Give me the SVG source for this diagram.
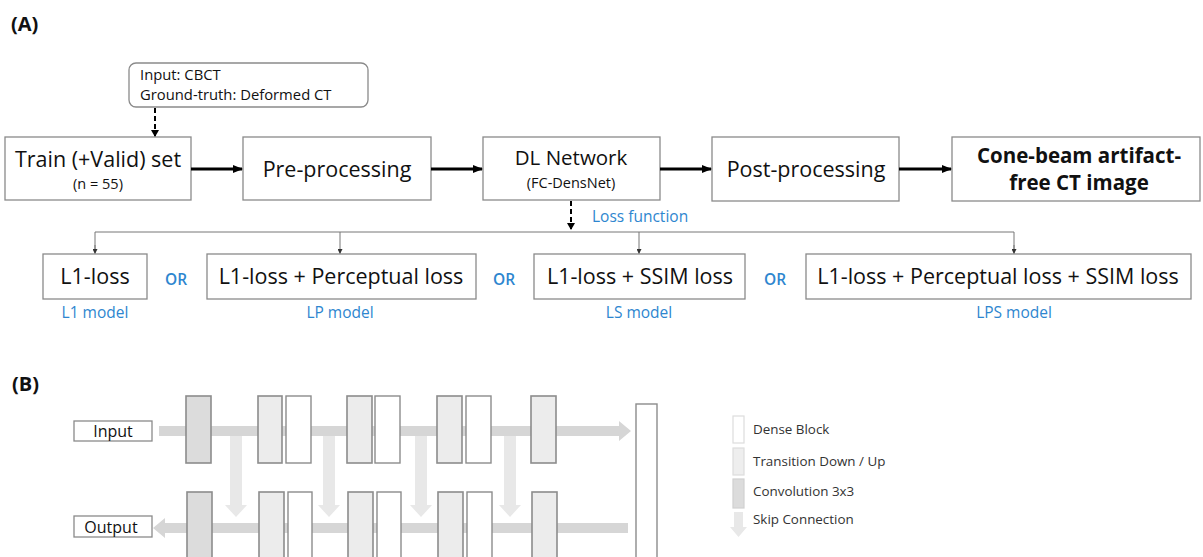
<svg xmlns="http://www.w3.org/2000/svg" width="1203" height="557" viewBox="0 0 1203 557">
<defs>
<style>
text{font-family:"Open Sans","Noto Sans","DejaVu Sans",sans-serif;fill:#111}
.box{fill:#fff;stroke:#8a8a8a;stroke-width:1.3}
.big{font-size:21.5px}
.sm{font-size:15.5px}
.blue{fill:#2e86cf}
.hd{font-size:20px;font-weight:bold}
.thick{stroke:#000;stroke-width:3;fill:none}
.dash{stroke:#000;stroke-width:2;stroke-dasharray:5 3;fill:none}
.thin{stroke:#777;stroke-width:1;fill:none}
.conv{fill:#dcdcdc;stroke:#8c8c8c;stroke-width:1.6}
.td{fill:#ececec;stroke:#8c8c8c;stroke-width:1.6}
.db{fill:#fff;stroke:#8c8c8c;stroke-width:1.4}
.band{fill:#d6d6d6}
.skip{fill:#e8e8e8}
.lg{font-size:13.4px;fill:#333}
</style>
<marker id="ah" markerWidth="10" markerHeight="8" refX="9" refY="4" orient="auto" markerUnits="userSpaceOnUse"><path d="M0,0 L10,4 L0,8 z" fill="#000"/></marker>
<marker id="ahs" markerWidth="7" markerHeight="8" refX="6" refY="4" orient="auto" markerUnits="userSpaceOnUse"><path d="M0,0 L7,4 L0,8 z" fill="#000"/></marker>
<marker id="aht" markerWidth="5" markerHeight="5" refX="4" refY="2.5" orient="auto" markerUnits="userSpaceOnUse"><path d="M0,0 L5,2.5 L0,5 z" fill="#333"/></marker>
</defs>
<rect width="1203" height="557" fill="#fff"/>
<text x="11" y="31" class="hd">(A)</text>
<text x="12" y="391" class="hd">(B)</text>

<g id="input-info">
<rect x="129" y="63" width="239" height="44" rx="7" class="box"/>
<text x="140" y="80" font-size="14.8">Input: CBCT</text>
<text x="140" y="100" font-size="14.8">Ground-truth: Deformed CT</text>
</g>
<g id="train"><rect x="5" y="137" width="186" height="63" class="box"/>
<text x="98" y="167" class="big" text-anchor="middle">Train (+Valid) set</text>
<text x="98" y="189" font-size="14.5" text-anchor="middle">(n = 55)</text></g>
<g id="pre"><rect x="243" y="137" width="188" height="63" class="box"/>
<text x="337" y="177" class="big" text-anchor="middle">Pre-processing</text></g>
<g id="dl"><rect x="483" y="137" width="177" height="63" class="box"/>
<text x="571" y="165" font-size="20.5" text-anchor="middle">DL Network</text>
<text x="571" y="188" font-size="14.5" text-anchor="middle">(FC-DensNet)</text></g>
<g id="post"><rect x="712" y="137" width="187" height="64" class="box"/>
<text x="806" y="177" class="big" text-anchor="middle">Post-processing</text></g>
<g id="result"><rect x="952" y="137" width="248" height="64" class="box"/>
<text x="1079" y="163" font-size="20.5" font-weight="bold" text-anchor="middle">Cone-beam artifact-</text>
<text x="1079" y="190" font-size="20.5" font-weight="bold" text-anchor="middle">free CT image</text></g>

<g id="l1"><rect x="43" y="254" width="104" height="45" class="box"/>
<text x="95" y="284" class="big" text-anchor="middle">L1-loss</text>
<text x="95" y="318" class="sm blue" text-anchor="middle">L1 model</text></g>
<g id="lp"><rect x="207" y="254" width="269" height="45" class="box"/>
<text x="341" y="284" class="big" text-anchor="middle">L1-loss + Perceptual loss</text>
<text x="340" y="318" class="sm blue" text-anchor="middle">LP model</text></g>
<g id="ls"><rect x="534" y="254" width="211" height="45" class="box"/>
<text x="640" y="284" class="big" text-anchor="middle">L1-loss + SSIM loss</text>
<text x="639" y="318" class="sm blue" text-anchor="middle">LS model</text></g>
<g id="lps"><rect x="806" y="254" width="385" height="45" class="box"/>
<text x="998" y="284" class="big" text-anchor="middle">L1-loss + Perceptual loss + SSIM loss</text>
<text x="1014" y="318" class="sm blue" text-anchor="middle">LPS model</text></g>
<g id="or-labels" font-weight="600">
<text x="176" y="285" class="sm blue" text-anchor="middle">OR</text>
<text x="504" y="285" class="sm blue" text-anchor="middle">OR</text>
<text x="775" y="285" class="sm blue" text-anchor="middle">OR</text>
</g>
<text x="592" y="222" class="sm blue">Loss function</text>

<g id="connectors">
<line x1="155" y1="108" x2="155" y2="136" class="dash" marker-end="url(#ahs)"/>
<line x1="191" y1="169" x2="242" y2="169" class="thick" marker-end="url(#ah)"/>
<line x1="431" y1="169" x2="482" y2="169" class="thick" marker-end="url(#ah)"/>
<line x1="660" y1="169" x2="711" y2="169" class="thick" marker-end="url(#ah)"/>
<line x1="899" y1="169" x2="951" y2="169" class="thick" marker-end="url(#ah)"/>
<line x1="571" y1="201" x2="571" y2="229" class="dash" marker-end="url(#ahs)"/>
<polyline points="95,252 95,232 1014,232 1014,252" class="thin"/>
<line x1="95" y1="245" x2="95" y2="253" class="thin" marker-end="url(#aht)"/>
<line x1="340" y1="232" x2="340" y2="253" class="thin" marker-end="url(#aht)"/>
<line x1="639" y1="232" x2="639" y2="253" class="thin" marker-end="url(#aht)"/>
<line x1="1014" y1="245" x2="1014" y2="253" class="thin" marker-end="url(#aht)"/>
</g>

<g id="network">
<rect x="74" y="421" width="78" height="20" class="box"/>
<text x="113" y="437" font-size="16" text-anchor="middle">Input</text>
<rect x="74" y="516" width="78" height="21" class="box"/>
<text x="111" y="533" font-size="16" text-anchor="middle">Output</text>
<path d="M159,426 H619 V421 L631,431 L619,441 V436 H159 z" class="band"/>
<path d="M628,523 H165 V518 L153,528 L165,538 V533 H628 z" class="band"/>
<path d="M230,436 H242 V505 H247 L236,517 L225,505 H230 z" class="skip"/>
<path d="M323,436 H335 V505 H340 L329,517 L318,505 H323 z" class="skip"/>
<path d="M415,436 H427 V505 H432 L421,517 L410,505 H415 z" class="skip"/>
<path d="M504,436 H516 V505 H521 L510,517 L499,505 H504 z" class="skip"/>
<rect x="186" y="396" width="25" height="67" class="conv"/>
<rect x="258" y="396" width="24" height="67" class="td"/>
<rect x="286" y="396" width="25" height="67" class="db"/>
<rect x="347" y="396" width="25" height="67" class="td"/>
<rect x="375" y="396" width="25" height="67" class="db"/>
<rect x="437" y="396" width="25" height="67" class="td"/>
<rect x="466" y="396" width="25" height="67" class="db"/>
<rect x="531" y="396" width="25" height="67" class="td"/>
<rect x="187" y="492" width="25" height="70" class="conv"/>
<rect x="259" y="492" width="25" height="70" class="td"/>
<rect x="288" y="492" width="24" height="70" class="db"/>
<rect x="348" y="492" width="25" height="70" class="td"/>
<rect x="377" y="492" width="24" height="70" class="db"/>
<rect x="438" y="492" width="25" height="70" class="td"/>
<rect x="467" y="492" width="25" height="70" class="db"/>
<rect x="532" y="492" width="25" height="70" class="td"/>
<rect x="636" y="404" width="21" height="160" class="db"/>
</g>

<g id="legend">
<rect x="733" y="416" width="11" height="27" fill="#fff" stroke="#ddd" stroke-width="1.2"/>
<rect x="733" y="448" width="11" height="27" fill="#eee" stroke="#ddd" stroke-width="1.2"/>
<rect x="733" y="479" width="11" height="29" fill="#dcdcdc" stroke="#d0d0d0" stroke-width="1.2"/>
<path d="M734,512 H743 V527 H747 L738.5,537 L730,527 H734 z" fill="#e8e8e8"/>
<text x="753" y="434" class="lg">Dense Block</text>
<text x="753" y="466" class="lg">Transition Down / Up</text>
<text x="753" y="496" class="lg">Convolution 3x3</text>
<text x="753" y="524" class="lg">Skip Connection</text>
</g>
</svg>
